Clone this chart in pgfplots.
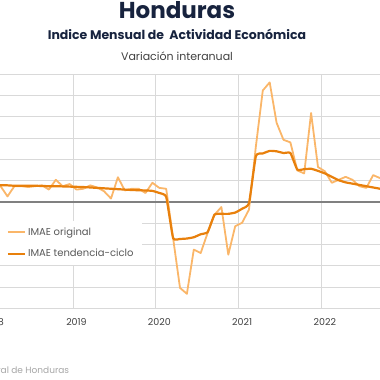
\documentclass[border=0pt]{standalone}
\usepackage{pgfplots}
\pgfplotsset{compat=1.18}
\usepackage{fontspec}
\setmainfont{Poppins}
\definecolor{origc}{RGB}{250,182,105}
\definecolor{tendc}{RGB}{232,128,12}
\definecolor{gridc}{RGB}{217,217,217}
\definecolor{zeroc}{RGB}{128,128,128}
\definecolor{navy}{RGB}{23,35,62}
\definecolor{labc}{RGB}{64,64,64}
\definecolor{legc}{RGB}{89,89,89}
\definecolor{srcc}{RGB}{166,166,166}
\begin{document}
\begin{tikzpicture}
\path[use as bounding box] (0,0) rectangle (380pt,380pt);
\clip (0,0) rectangle (380pt,380pt);
\node[font=\fontsize{23}{26}\bfseries\selectfont, text=navy] at (177pt,370pt) {Honduras};
\node[font=\fontsize{12.5}{14}\bfseries\selectfont, text=navy] at (177pt,345.7pt) {Indice Mensual de \ Actividad Económica};
\node[font=\fontsize{11}{13}\selectfont, text=labc] at (177pt,324pt) {Variación interanual};
\node[font=\fontsize{9}{11}\selectfont, text=srcc, anchor=east] at (72.7pt,9.3pt) {Fuente: Banco Central de Honduras};
\begin{axis}[
  at={(-27pt,71.7pt)}, anchor=south west, scale only axis,
  width=414pt, height=234pt,
  xmin=-3, xmax=57, ymin=-25, ymax=30,
  axis line style={draw=none},
  major tick length=0pt,
  xtick={0,12,24,36,48}, xticklabels={2018,2019,2020,2021,2022},
  extra x ticks={-0.5,11.5,23.5,35.5,47.5}, extra x tick labels={},
  extra x tick style={grid=major, major tick length=0pt},
  ytick={-25,-20,...,30}, yticklabels={}, ymajorgrids,
  grid style={color=gridc, line width=0.8pt},
  extra y ticks={0}, extra y tick labels={},
  extra y tick style={grid=major, grid style={color=zeroc, line width=1.3pt}},
  xticklabel style={font=\fontsize{9.5}{11}\selectfont, text=labc, anchor=center, yshift=-13.4pt},
  legend style={at={(rel axis cs:0.0652,0.375)}, anchor=north west, draw=none, fill=white,
    font=\fontsize{10}{12}\selectfont, text=legc, inner xsep=6.7pt, inner ysep=5pt,
    row sep=8.5pt, cells={anchor=west}},
  legend image code/.code={\draw[#1] (0pt,0pt) -- (17pt,0pt);},
  legend cell align=left,
]
\addplot[color=origc, line width=1.8pt, line join=round] coordinates {
(0,4.0)(1,3.7)(2,1.3)(3,3.7)(4,3.7)(5,3.5)(6,3.7)(7,3.9)(8,2.9)(9,5.2)
(10,3.7)(11,4.2)(12,2.9)(13,3.1)(14,3.9)(15,3.4)(16,2.5)(17,0.8)(18,5.8)(19,2.7)
(20,3.1)(21,3.1)(22,2.1)(23,4.5)(24,3.3)(25,3.1)(26,-8.5)(27,-20.2)(28,-21.6)(29,-11.2)
(30,-12.0)(31,-7.3)(32,-3.0)(33,-1.2)(34,-12.4)(35,-5.7)(36,-4.9)(37,-1.8)(38,13.1)(39,26.2)
(40,28.1)(41,18.6)(42,14.6)(43,14.0)(44,7.4)(45,6.7)(46,20.9)(47,8.2)(48,7.2)(49,4.5)
(50,5.2)(51,5.9)(52,5.2)(53,3.7)(54,3.3)(55,6.3)(56,5.6)
};
\addlegendentry{IMAE original}
\addplot[color=tendc, line width=2.2pt, line join=round, smooth, tension=0.25] coordinates {
(0,3.9)(1,3.9)(2,3.9)(3,3.8)(4,3.8)(5,3.8)(6,3.8)(7,3.75)(8,3.7)(9,3.7)
(10,3.65)(11,3.6)(12,3.55)(13,3.5)(14,3.4)(15,3.3)(16,3.2)(17,3.1)(18,3.0)(19,2.9)
(20,2.8)(21,2.75)(22,2.7)(23,2.6)(24,2.1)(25,1.2)(26,-8.5)(27,-8.7)(28,-8.6)(29,-8.3)
(30,-7.6)(31,-7.1)(32,-3.0)(33,-2.8)(34,-2.8)(35,-2.5)(36,-1.6)(37,-0.3)(38,10.8)(39,11.4)
(40,12.0)(41,11.9)(42,11.5)(43,11.5)(44,7.6)(45,7.7)(46,7.8)(47,7.3)(48,6.7)(49,5.9)
(50,5.1)(51,4.6)(52,4.3)(53,4.0)(54,3.7)(55,3.4)(56,3.1)
};
\addlegendentry{IMAE tendencia-ciclo}
\end{axis}
\end{tikzpicture}
\end{document}
